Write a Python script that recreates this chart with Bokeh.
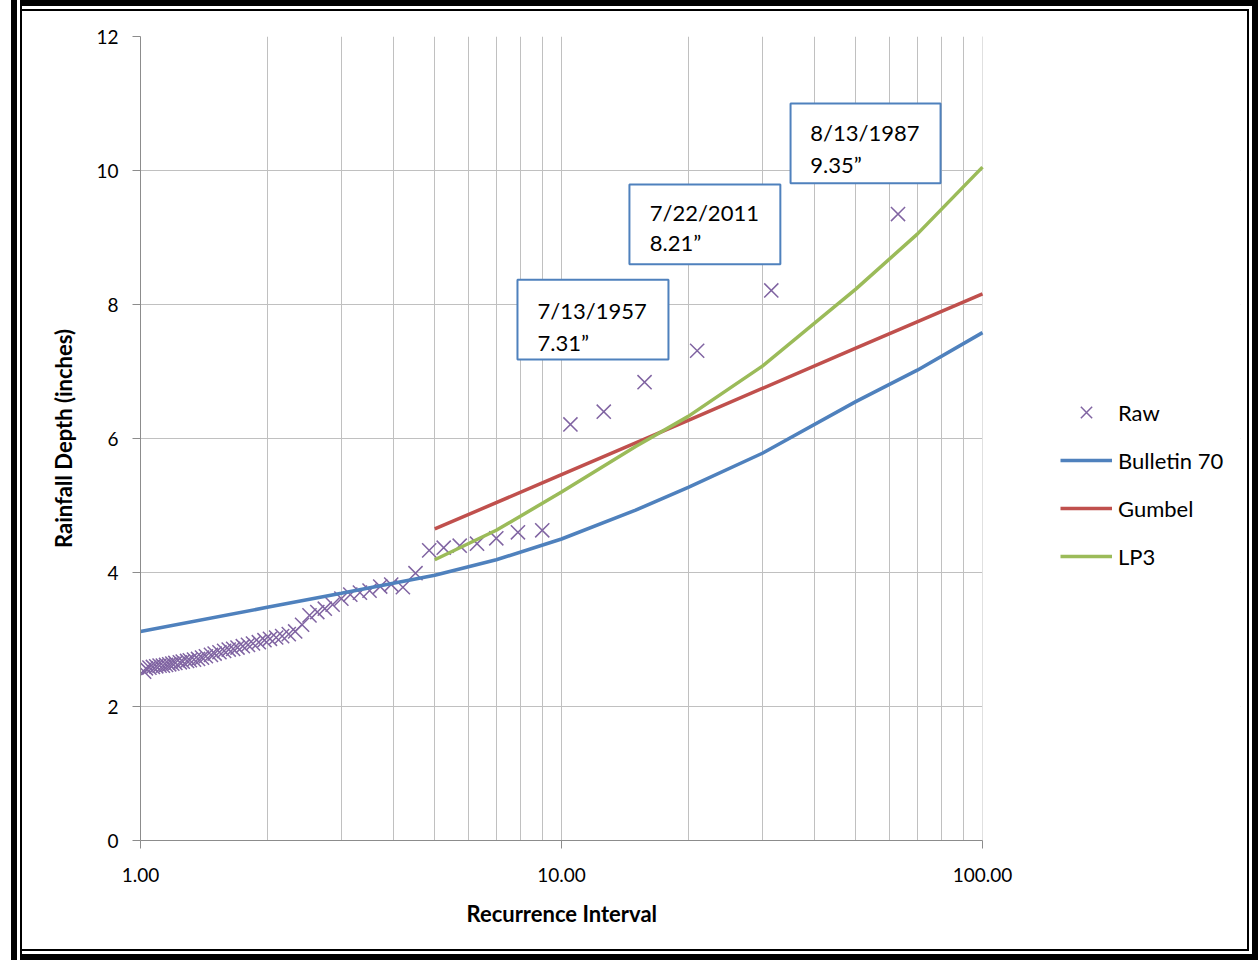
from bokeh.plotting import figure
from bokeh.models import (Range1d, FixedTicker, PrintfTickFormatter, Legend,
                          LegendItem, BoxAnnotation, Label, Title)
from bokeh.embed import file_html
from bokeh.resources import INLINE

# ---- data ----
raw_T = [63.00, 31.50, 21.00, 15.75, 12.60, 10.50, 9.00, 7.88, 7.00, 6.30,
         5.73, 5.25, 4.85, 4.50, 4.20, 3.94, 3.71, 3.50, 3.32, 3.15,
         3.00, 2.86, 2.74, 2.63, 2.52, 2.42, 2.33, 2.25, 2.17, 2.10,
         2.03, 1.97, 1.91, 1.85, 1.80, 1.75, 1.70, 1.66, 1.62, 1.58,
         1.54, 1.50, 1.47, 1.43, 1.40, 1.37, 1.34, 1.31, 1.29, 1.26,
         1.24, 1.21, 1.19, 1.17, 1.15, 1.13, 1.11, 1.09, 1.07, 1.05,
         1.03, 1.02]
raw_depth = [9.35, 8.21, 7.31, 6.84, 6.40, 6.21, 4.63, 4.60, 4.51, 4.43,
             4.40, 4.37, 4.33, 3.99, 3.78, 3.82, 3.79, 3.73, 3.70, 3.67,
             3.61, 3.52, 3.46, 3.41, 3.36, 3.22, 3.12, 3.08, 3.05, 3.03,
             3.01, 2.99, 2.96, 2.94, 2.92, 2.90, 2.88, 2.86, 2.85, 2.83,
             2.81, 2.79, 2.77, 2.75, 2.73, 2.71, 2.70, 2.69, 2.68, 2.67,
             2.66, 2.65, 2.64, 2.63, 2.62, 2.61, 2.61, 2.60, 2.59, 2.58,
             2.57, 2.52]

b70_T = [1, 2, 3, 5, 7, 10, 15, 20, 30, 50, 70, 100]
b70_depth = [3.12, 3.48, 3.69, 3.96, 4.19, 4.50, 4.93, 5.27, 5.78, 6.55, 7.02, 7.58]

gumbel_T = [5, 10, 20, 50, 100]
gumbel_depth = [4.65, 5.46, 6.27, 7.35, 8.16]

lp3_T = [5, 7, 10, 15, 20, 30, 50, 70, 100]
lp3_depth = [4.19, 4.63, 5.20, 5.88, 6.33, 7.08, 8.23, 9.05, 10.05]

y_ticks = [0, 2, 4, 6, 8, 10, 12]
x_ticks = [1, 10, 100]

notes = [("7/13/1957", "7.31\u201d"), ("7/22/2011", "8.21\u201d"), ("8/13/1987", "9.35\u201d")]

FONT = "Lato"
GRID = "#C0C0C0"
AXIS = "#8C8C8C"

# layout: plot area 1..100 spans 842 px; the frame is extended to the right so the
# legend (outside the axes in the reference) can be drawn without clipping.
W, H = 1258, 960
LEFT, TOP, BOTTOM_B = 140, 36, 120
AXIS_PX = 842
FRAME_W = 1100
x_end = 10 ** (2 * FRAME_W / AXIS_PX)

p = figure(width=W, height=H, x_axis_type="log",
           x_range=Range1d(1, x_end), y_range=Range1d(0, 12),
           output_backend="svg", toolbar_location=None,
           min_border_left=LEFT, min_border_right=W - LEFT - FRAME_W,
           min_border_top=TOP, min_border_bottom=BOTTOM_B,
           outline_line_color=None, background_fill_color="white",
           border_fill_color="white")
p.styles = {"box-shadow": ("inset 11px 0 0 0 white, inset 17px 0 0 0 black, "
                           "inset 20px 0 0 0 white, inset 22px 0 0 0 black, "
                           "inset 0 0 0 6px black, inset 0 0 0 9px white, "
                           "inset 0 0 0 11px black")}
p.border_fill_alpha = 0

# axes
minor = [k * d for d in (1, 10) for k in range(2, 10)]
p.xaxis.ticker = FixedTicker(ticks=x_ticks, minor_ticks=minor)
p.xaxis.formatter = PrintfTickFormatter(format="%.2f")
p.xaxis.bounds = (1, 100)
p.yaxis.ticker = FixedTicker(ticks=y_ticks)
for ax in (p.xaxis[0], p.yaxis[0]):
    ax.axis_line_color = AXIS
    ax.major_tick_line_color = AXIS
    ax.major_tick_out = 8
    ax.major_tick_in = 0
    ax.minor_tick_out = 0
    ax.minor_tick_in = 0
    ax.major_label_text_font = FONT
    ax.major_label_text_font_size = "19px"
    ax.major_label_text_color = "black"
    ax.axis_label_text_font = FONT
    ax.axis_label_text_font_style = "bold"
    ax.axis_label_text_font_size = "22px"
    ax.axis_label_text_color = "black"
p.yaxis.axis_label = "Rainfall Depth (inches)"
p.xaxis.major_label_standoff = 19
p.yaxis.major_label_standoff = 14
p.yaxis.axis_label_standoff = 16

# x-axis title centred under the 1..100 axis (not the extended frame)
xtitle = Title(text="Recurrence Interval", align="left", offset=326,
               text_font=FONT, text_font_style="bold", text_font_size="22px",
               text_color="black", standoff=27)
p.add_layout(xtitle, "below")

p.xgrid.grid_line_color = GRID
p.xgrid.minor_grid_line_color = GRID
p.ygrid.grid_line_color = GRID

# hide grid to the right of the axes area (x > 100)
p.add_layout(BoxAnnotation(left=100, fill_color="white", fill_alpha=1,
                           line_color=None, level="underlay"))

# series
r_raw = p.scatter(raw_T, raw_depth, marker="x", size=20, line_color="#8064A2", line_width=1.5)
r_b70 = p.line(b70_T, b70_depth, line_color="#4F81BD", line_width=3.5)
r_gum = p.line(gumbel_T, gumbel_depth, line_color="#C0504D", line_width=3.5)
r_lp3 = p.line(lp3_T, lp3_depth, line_color="#9BBB59", line_width=3.5)

legend = Legend(items=[LegendItem(label="Raw", renderers=[r_raw]),
                       LegendItem(label="Bulletin 70", renderers=[r_b70]),
                       LegendItem(label="Gumbel", renderers=[r_gum]),
                       LegendItem(label="LP3", renderers=[r_lp3])],
                location=(920, 264))
legend.background_fill_alpha = 0
legend.border_line_color = None
legend.padding = 0
legend.margin = 0
legend.spacing = 8
legend.glyph_height = 40
legend.label_height = 40
legend.glyph_width = 52
legend.label_standoff = 6
legend.label_text_font = FONT
legend.label_text_font_size = "22px"
legend.label_text_color = "black"
p.add_layout(legend)

# annotation boxes: (left, right, bottom, top) in data units, text anchor
boxes = [((7.86, 17.95, 7.18, 8.37), (8.77, 7.91, 7.43)),
         ((14.5, 33.1, 8.60, 9.79), (16.2, 9.37, 8.93)),
         ((35.0, 79.5, 9.81, 11.0), (39.0, 10.57, 10.09))]
for (l, r, b, t), (tx, ty1, ty2) in boxes:
    p.add_layout(BoxAnnotation(left=l, right=r, bottom=b, top=t,
                               fill_color="white", fill_alpha=1,
                               line_color="#4F81BD", line_width=2, line_alpha=1))
for ((l, r, b, t), (tx, ty1, ty2)), (d, v) in zip(boxes, notes):
    for ty, txt in ((ty1, d), (ty2, v)):
        p.add_layout(Label(x=tx, y=ty, text=txt, text_font=FONT, text_font_size="22px",
                           text_baseline="middle", text_color="black"))

open("out.html", "w").write(file_html(p, INLINE))
